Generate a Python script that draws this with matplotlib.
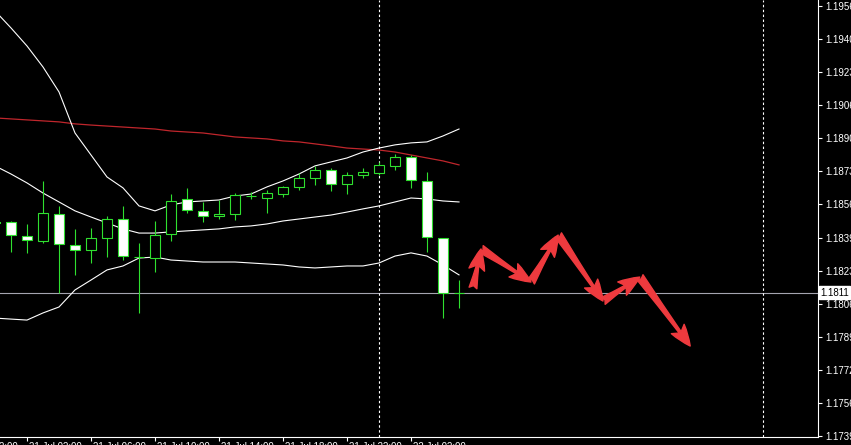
import numpy as np
import matplotlib
matplotlib.use("Agg")
import matplotlib.pyplot as plt
from matplotlib.transforms import blended_transform_factory, ScaledTranslation

# H1 candles, bar index -1 .. 28 (bar -1 is cut by the left edge)
bar_index = np.arange(-1, 29)
opens = [1.18470, 1.18470, 1.18399, 1.18374, 1.18510, 1.18354, 1.18329, 1.18389,
         1.18485, 1.18293, 1.18288, 1.18409, 1.18586, 1.18526, 1.18500, 1.18510,
         1.18601, 1.18591, 1.18611, 1.18647, 1.18692, 1.18732, 1.18662, 1.18707,
         1.18717, 1.18753, 1.18798, 1.18677, 1.18389, 1.18112]
highs = [1.18480, 1.18475, 1.18460, 1.18677, 1.18551, 1.18435, 1.18440, 1.18500,
         1.18551, 1.18364, 1.18475, 1.18611, 1.18642, 1.18571, 1.18581, 1.18616,
         1.18621, 1.18631, 1.18652, 1.18717, 1.18753, 1.18742, 1.18722, 1.18742,
         1.18773, 1.18813, 1.18808, 1.18722, 1.18389, 1.18177]
lows = [1.18455, 1.18319, 1.18314, 1.18364, 1.18112, 1.18203, 1.18263, 1.18293,
        1.18278, 1.18011, 1.18218, 1.18374, 1.18515, 1.18470, 1.18485, 1.18480,
        1.18586, 1.18515, 1.18596, 1.18631, 1.18657, 1.18626, 1.18611, 1.18692,
        1.18707, 1.18732, 1.18642, 1.18319, 1.17985, 1.18036]
closes = [1.18465, 1.18404, 1.18379, 1.18515, 1.18359, 1.18329, 1.18389, 1.18485,
          1.18298, 1.18293, 1.18404, 1.18576, 1.18531, 1.18500, 1.18510, 1.18606,
          1.18601, 1.18616, 1.18647, 1.18692, 1.18732, 1.18662, 1.18707, 1.18722,
          1.18758, 1.18798, 1.18682, 1.18394, 1.18112, 1.18112]

# Bollinger bands and moving average
bb_upper = [1.19535, 1.19449, 1.19358, 1.19252, 1.19126, 1.18919, 1.18808, 1.18697,
            1.18642, 1.18551, 1.18526, 1.18556, 1.18571, 1.18576, 1.18581, 1.18601,
            1.18611, 1.18647, 1.18677, 1.18712, 1.18753, 1.18773, 1.18793, 1.18823,
            1.18843, 1.18859, 1.18869, 1.18874, 1.18904, 1.18939]
bb_middle = [1.18753, 1.18712, 1.18667, 1.18616, 1.18571, 1.18526, 1.18495, 1.18465,
             1.18435, 1.18414, 1.18414, 1.18420, 1.18425, 1.18430, 1.18435, 1.18445,
             1.18450, 1.18460, 1.18475, 1.18485, 1.18495, 1.18505, 1.18520, 1.18536,
             1.18551, 1.18571, 1.18591, 1.18586, 1.18576, 1.18571]
bb_lower = [1.17985, 1.17980, 1.17975, 1.18011, 1.18041, 1.18127, 1.18177, 1.18228,
            1.18248, 1.18288, 1.18293, 1.18278, 1.18273, 1.18268, 1.18268, 1.18268,
            1.18263, 1.18258, 1.18253, 1.18243, 1.18238, 1.18243, 1.18248, 1.18248,
            1.18263, 1.18298, 1.18314, 1.18298, 1.18253, 1.18203]
ma_slow = [1.18995, 1.18990, 1.18985, 1.18980, 1.18975, 1.18965, 1.18959, 1.18954,
           1.18949, 1.18944, 1.18939, 1.18929, 1.18924, 1.18919, 1.18909, 1.18899,
           1.18894, 1.18889, 1.18879, 1.18874, 1.18864, 1.18854, 1.18843, 1.18838,
           1.18833, 1.18823, 1.18808, 1.18793, 1.18778, 1.18758]

bid_price = 1.18112
bid_label = "1.1811"

# day separators
separators = [23, 47]

# forecast path drawn as red arrows (bar position, price)
path_x = [28.875, 29.375, 32.5, 34.2, 37.0, 39.3, 42.45]
path_y = [1.18137, 1.18334, 1.18167, 1.18404, 1.18071, 1.18192, 1.17844]

price_labels = ["1.1956", "1.1940", "1.1923", "1.1906", "1.1890", "1.1873", "1.1856",
                "1.1839", "1.1823", "1.1806", "1.1789", "1.1772", "1.1756", "1.1739"]
time_ticks = [-3, 1, 5, 9, 13, 17, 21, 25]
time_labels = ["20 Jul 22:00", "21 Jul 02:00", "21 Jul 06:00", "21 Jul 10:00",
               "21 Jul 14:00", "21 Jul 18:00", "21 Jul 22:00", "22 Jul 02:00"]

plt.rcParams["font.family"] = ["Liberation Sans", "DejaVu Sans"]

W, H = 851, 445
fig = plt.figure(figsize=(W / 100, H / 100), dpi=100, facecolor="black")
ax = fig.add_axes([0, 8 / H, 818 / W, 437 / H], facecolor="black")

green = "#2fe02f"
o = np.array(opens)
c = np.array(closes)
bear = c < o
face = np.where(bear, "white", "black")

ax.vlines(bar_index, lows, highs, color=green, lw=0.8, zorder=3)
ax.bar(bar_index, c - o, bottom=o, width=0.64, color=face, edgecolor=green,
       linewidth=0.8, zorder=4)

ax.plot(bar_index, ma_slow, color="#c0262c", lw=0.9, zorder=2)
for band in (bb_upper, bb_middle, bb_lower):
    ax.plot(bar_index, band, color="white", lw=0.8, zorder=2)

ax.axhline(bid_price, color="#a4a4b0", lw=0.8, zorder=1)
for s in separators:
    ax.axvline(s, color="white", lw=0.8, ls=(0, (2.2, 2.2)), zorder=1)

for i in range(len(path_x) - 1):
    ax.annotate("", xy=(path_x[i + 1], path_y[i + 1]), xytext=(path_x[i], path_y[i]),
                arrowprops=dict(arrowstyle="fancy,head_length=0.8,head_width=0.6,tail_width=0.3",
                                mutation_scale=19, color="#ee3a3e", shrinkA=0, shrinkB=0),
                zorder=6)

ax.yaxis.tick_right()
ax.set_yticks(np.linspace(1.1956, 1.1739, len(price_labels)))
ax.set_yticklabels(price_labels)
ax.tick_params(axis="y", colors="white", labelcolor="white", direction="out",
               length=3, width=0.8, pad=2, labelsize=7)

# tick marks only; the time texts sit to the right of each mark
ax.set_xticks([t for t in time_ticks if t >= 0])
ax.set_xticklabels([])
ax.tick_params(axis="x", colors="white", direction="out", length=3, width=0.8)
bottom_trans = blended_transform_factory(ax.transData, ax.transAxes)
shift = ScaledTranslation(2 / 100, -5 / 100, fig.dpi_scale_trans)
for t, lab in zip(time_ticks, time_labels):
    ax.text(t, 0, lab, transform=bottom_trans + shift, ha="left", va="top",
            fontsize=7, color="white", clip_on=False)

ax.set_xlim((0 - 11) / 16, (818 - 11) / 16)
ax.set_ylim(1.17385, 1.19590)

for side in ("top", "left"):
    ax.spines[side].set_visible(False)
for side in ("right", "bottom"):
    ax.spines[side].set_color("white")
    ax.spines[side].set_linewidth(0.8)

trans = blended_transform_factory(ax.transAxes, ax.transData)
ax.text(1.0, bid_price, bid_label, transform=trans + ScaledTranslation(2 / 100, 0, fig.dpi_scale_trans),
        ha="left", va="center", fontsize=7, color="black", zorder=10, clip_on=False,
        bbox=dict(boxstyle="square,pad=0.15", facecolor="white", edgecolor="white"))

fig.savefig("out.png", dpi=100, facecolor="black")
